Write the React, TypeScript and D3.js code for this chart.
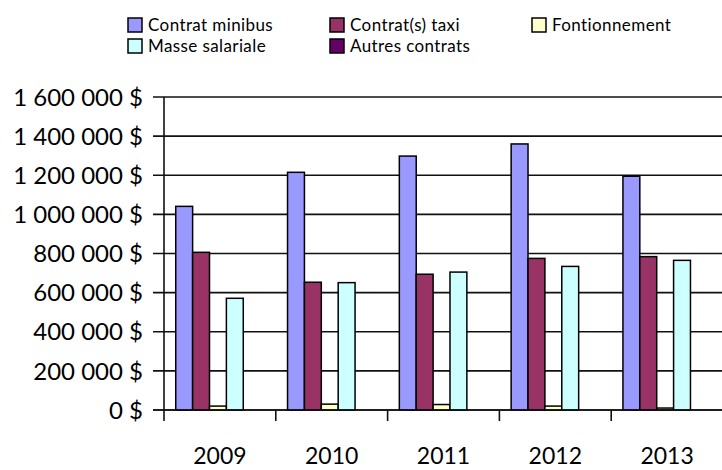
import React from "react";
import * as d3 from "d3";

const years = ["2009", "2010", "2011", "2012", "2013"];
const seriesNames = ["Contrat minibus", "Contrat(s) taxi", "Fontionnement", "Masse salariale", "Autres contrats"];
const seriesColors = ["#9999FF", "#993366", "#FFFFCC", "#CCFFFF", "#660066"];
const minibus = [1041000, 1215000, 1298000, 1360000, 1195000];
const taxi = [806000, 653000, 694000, 775000, 784000];
const fonctionnement = [20000, 30000, 28000, 20000, 10000];
const masse = [571000, 651000, 705000, 734000, 765000];
const autres = [0, 0, 0, 0, 0];
const yTicks = [0, 200000, 400000, 600000, 800000, 1000000, 1200000, 1400000, 1600000];

const allSeries = [minibus, taxi, fonctionnement, masse, autres];

const W = 722;
const H = 470;
const FONT = "Lato, 'Open Sans', sans-serif";

function fmt(v: number): string {
  const s = d3.format(",")(v).replace(/,/g, "\u00a0");
  return s + "\u00a0$";
}

export default function App() {
  const x0 = d3.scaleBand<string>().domain(years).range([164, 723]).paddingInner(0).paddingOuter(0);
  const bw = x0.bandwidth();
  const x1 = d3
    .scaleBand<number>()
    .domain(d3.range(seriesNames.length))
    .range([bw * 0.105, bw * 0.105 + bw * 0.151 * 5])
    .padding(0);
  const y = d3.scaleLinear().domain([0, 1600000]).range([410, 97]);

  const legendCols = [128, 330, 532];
  const legendRows = [25, 46];
  const legendPos = [
    [0, 0],
    [1, 0],
    [2, 0],
    [0, 1],
    [1, 1],
  ];
  const legendItems = seriesNames.map((_, i) => ({
    i,
    cx: legendCols[legendPos[i][0]],
    cy: legendRows[legendPos[i][1]],
  }));

  return (
    <svg width={W} height={H} style={{ display: "block", position: "absolute", left: 0, top: 0, background: "#fff" }}>
      <rect x={0} y={0} width={W} height={H} fill="#fff" />
      {yTicks.map((t) => (
        <line key={"g" + t} x1={153} x2={W} y1={y(t)} y2={y(t)} stroke="#111" strokeWidth={1.6} />
      ))}
      <line x1={164} x2={164} y1={y(1600000)} y2={y(0)} stroke="#111" strokeWidth={1.6} />
      {yTicks.map((t) => (
        <text
          key={"yl" + t}
          x={143}
          y={y(t)}
          dy="0.36em"
          textAnchor="end"
          fontFamily={FONT}
          fontSize={24}
          fill="#000"
        >
          {fmt(t)}
        </text>
      ))}
      {years.map((yr, yi) => (
        <g key={yr} transform={`translate(${x0(yr)},0)`}>
          {allSeries.map((s, si) => {
            const v = s[yi];
            const top = y(v);
            return (
              <rect
                key={si}
                x={x1(si)}
                y={top}
                width={x1.bandwidth()}
                height={y(0) - top}
                fill={seriesColors[si]}
                stroke="#000"
                strokeWidth={1.5}
              />
            );
          })}
        </g>
      ))}
      <line x1={153} x2={W} y1={y(0)} y2={y(0)} stroke="#111" strokeWidth={1.6} />
      {years.map((yr) => (
        <line
          key={"xt" + yr}
          x1={x0(yr)!}
          x2={x0(yr)!}
          y1={y(0)}
          y2={y(0) + 11}
          stroke="#111"
          strokeWidth={1.6}
        />
      ))}
      {years.map((yr) => (
        <text
          key={"xl" + yr}
          x={x0(yr)! + bw / 2}
          y={464}
          textAnchor="middle"
          fontFamily={FONT}
          fontSize={23}
          fill="#000"
        >
          {yr}
        </text>
      ))}
      {legendItems.map(({ i, cx, cy }) => (
        <g key={"lg" + i}>
          <rect x={cx} y={cy - 7} width={14} height={14} fill={seriesColors[i]} stroke="#000" strokeWidth={1.5} />
          <text
            x={cx + 20}
            y={cy}
            dy="0.36em"
            fontFamily={FONT}
            fontSize={17}
            letterSpacing={0.4}
            fill="#000"
          >
            {seriesNames[i]}
          </text>
        </g>
      ))}
    </svg>
  );
}
